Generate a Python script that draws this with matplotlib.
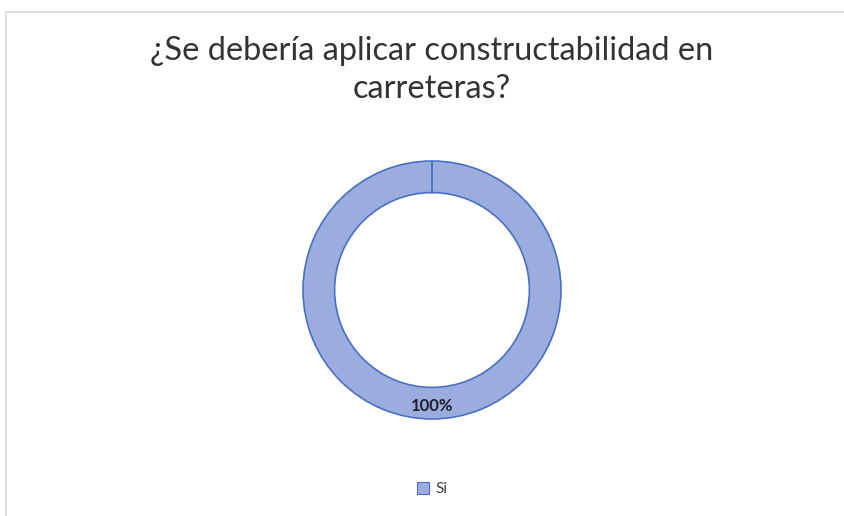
import matplotlib.pyplot as plt
from matplotlib.patches import Rectangle

# datos
categorias = ['Si']
valores = [100]
etiquetas = ['100%']

titulo = '¿Se debería aplicar constructabilidad en\ncarreteras?'

plt.rcParams['font.family'] = ['Lato', 'DejaVu Sans']

fig = plt.figure(figsize=(8.45, 5.16), dpi=100)

# marco gris claro del gráfico (borde superior e izquierdo)
fig.patches.append(Rectangle((6 / 845, -0.05), 1.2, (516 - 12) / 516 + 0.05,
                             transform=fig.transFigure, fill=False,
                             edgecolor='#d9d9d9', linewidth=1.2))

# eje del anillo: centro (432, 290), radio exterior ~129 px
r_px = 129
ax = fig.add_axes([(432 - r_px) / 845, (516 - 290 - r_px) / 516,
                   2 * r_px / 845, 2 * r_px / 516])

cuñas, textos = ax.pie(valores, startangle=90, counterclock=False,
                       colors=['#9badde'], radius=1.0,
                       wedgeprops=dict(width=0.245, edgecolor='#4a6fc2',
                                       linewidth=1.2))
ax.plot([0, 0], [1.0, 1 - 0.245], color='#4a6fc2', linewidth=1.3)
ax.set_aspect('equal')
ax.set_xlim(-1, 1)
ax.set_ylim(-1, 1)
ax.axis('off')

ax.text(0, -1 + 0.245 / 2 - 0.02, etiquetas[0], ha='center', va='center',
        fontsize=12, fontweight='bold', color='#1f1f2e')

fig.text(432 / 845, 1 - 70 / 516, titulo, ha='center', va='center',
         fontsize=23.4, color='#333333', linespacing=1.3)

# leyenda
fig.legend(handles=[Rectangle((0, 0), 1, 1, facecolor='#9badde',
                              edgecolor='#4a6fc2', linewidth=0.8)],
           labels=categorias, loc='center', bbox_to_anchor=(432 / 845, 1 - 489 / 516),
           frameon=False, fontsize=11, handlelength=0.8, handleheight=0.8,
           handletextpad=0.4, labelcolor='#404040')

fig.savefig('out.png', dpi=100)
